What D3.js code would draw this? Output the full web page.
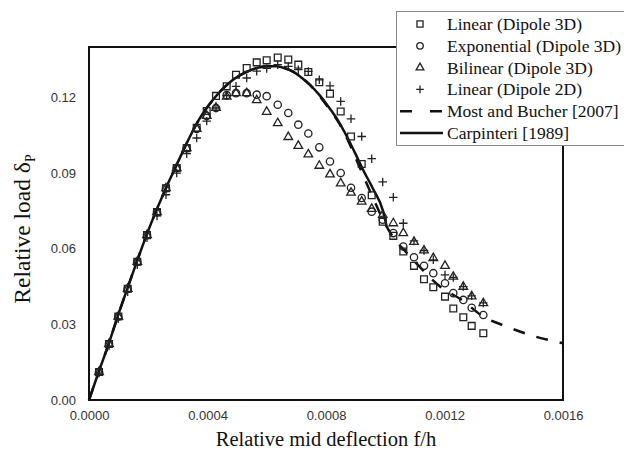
<!DOCTYPE html>
<html>
<head>
<meta charset="utf-8">
<script src="https://cdn.jsdelivr.net/npm/d3@7"></script>
<style>
body { margin: 0; background: #fff; }
</style>
</head>
<body>
<div id="chart"></div>
<script>
// relative mid deflection f/h of the load steps (same for every dipole model)
var deflection = [0.0000338, 0.0000675, 0.0000989, 0.0001306, 0.0001630, 0.0001958, 0.0002295, 0.0002599, 0.0002960, 0.0003298,
    0.0003635, 0.0003973, 0.0004287, 0.0004648, 0.0004962, 0.0005323, 0.0005661, 0.0005998, 0.0006370, 0.0006727,
    0.0007065, 0.0007403, 0.0007774, 0.0008135, 0.0008496, 0.0008844, 0.0009205, 0.0009543, 0.0009914, 0.0010272,
    0.0010609, 0.0010970, 0.0011308, 0.0011622, 0.0012017, 0.0012297, 0.0012635, 0.0012918, 0.0013310];

// relative load for each model
var linear3D = [0.0111, 0.0222, 0.0331, 0.0441, 0.0548, 0.0654, 0.0745, 0.0840, 0.0920, 0.0999,
    0.1080, 0.1146, 0.1206, 0.1244, 0.1290, 0.1317, 0.1339, 0.1347, 0.1358, 0.1350,
    0.1330, 0.1301, 0.1260, 0.1215, 0.1144, 0.1045, 0.0936, 0.0812, 0.0707, 0.0651,
    0.0589, 0.0532, 0.0479, 0.0447, 0.0410, 0.0363, 0.0328, 0.0294, 0.0265];
var exponential3D = [0.0111, 0.0222, 0.0331, 0.0441, 0.0548, 0.0654, 0.0745, 0.0840, 0.0920, 0.0999,
    0.1075, 0.1127, 0.1158, 0.1209, 0.1217, 0.1217, 0.1211, 0.1205, 0.1171, 0.1138,
    0.1092, 0.1057, 0.1002, 0.0946, 0.0900, 0.0842, 0.0801, 0.0747, 0.0715, 0.0662,
    0.0609, 0.0566, 0.0532, 0.0503, 0.0463, 0.0424, 0.0397, 0.0366, 0.0337];
var bilinear3D = [0.0111, 0.0222, 0.0331, 0.0441, 0.0548, 0.0654, 0.0745, 0.0840, 0.0920, 0.0999,
    0.1075, 0.1127, 0.1159, 0.1203, 0.1217, 0.1217, 0.1189, 0.1143, 0.1098, 0.1043,
    0.1008, 0.0974, 0.0929, 0.0895, 0.0859, 0.0822, 0.0787, 0.0758, 0.0734, 0.0701,
    0.0662, 0.0627, 0.0593, 0.0563, 0.0532, 0.0489, 0.0449, 0.0411, 0.0384];
var linear2D = [0.0107, 0.0214, 0.0322, 0.0429, 0.0536, 0.0643, 0.0730, 0.0814, 0.0900, 0.0977,
    0.1039, 0.1106, 0.1158, 0.1207, 0.1244, 0.1277, 0.1304, 0.1315, 0.1330, 0.1323,
    0.1310, 0.1303, 0.1270, 0.1246, 0.1184, 0.1115, 0.1045, 0.0957, 0.0865, 0.0804,
    0.0701, 0.0631, 0.0593, 0.0556, 0.0496, 0.0486, 0.0450, 0.0413, 0.0385];

// reference curves
var carpinteriX = [0, 0.0000338, 0.0000675, 0.0000979, 0.0001316, 0.0001637, 0.0001958, 0.0002295, 0.0002623, 0.0002960,
    0.0003409, 0.0003747, 0.0004186, 0.0004523, 0.0004861, 0.0005266, 0.0005661, 0.0006008, 0.0006336, 0.0006650,
    0.0006886, 0.0007122, 0.0007460, 0.0007797, 0.0008034, 0.0008371, 0.0008709, 0.0008979, 0.0009249, 0.0009586,
    0.0009924, 0.0010042];
var carpinteriY = [0, 0.0115, 0.0226, 0.0335, 0.0449, 0.0556, 0.0659, 0.0758, 0.0847, 0.0933,
    0.1045, 0.1119, 0.1191, 0.1235, 0.1270, 0.1298, 0.1317, 0.1324, 0.1324, 0.1314,
    0.1302, 0.1283, 0.1250, 0.1207, 0.1171, 0.1115, 0.1044, 0.0980, 0.0913, 0.0838,
    0.0750, 0.0691];
var mostBucherX = [0, 0.0000338, 0.0000675, 0.0000979, 0.0001316, 0.0001637, 0.0001958, 0.0002295, 0.0002623, 0.0002960,
    0.0003409, 0.0003747, 0.0004186, 0.0004523, 0.0004861, 0.0005266, 0.0005661, 0.0006008, 0.0006336, 0.0006650,
    0.0006886, 0.0007122, 0.0007460, 0.0007797, 0.0008135, 0.0008473, 0.0008810, 0.0009114, 0.0009350, 0.0009586,
    0.0009924, 0.0010329, 0.0010667, 0.0011004, 0.0011848, 0.0012580, 0.0013310, 0.0014042, 0.0014886, 0.0016000];
var mostBucherY = [0, 0.0115, 0.0226, 0.0335, 0.0449, 0.0556, 0.0659, 0.0758, 0.0847, 0.0933,
    0.1045, 0.1119, 0.1191, 0.1235, 0.1270, 0.1298, 0.1317, 0.1324, 0.1324, 0.1314,
    0.1302, 0.1283, 0.1250, 0.1203, 0.1151, 0.1092, 0.1012, 0.0929, 0.0865, 0.0802,
    0.0715, 0.0635, 0.0591, 0.0548, 0.0450, 0.0397, 0.0331, 0.0294, 0.0258, 0.0225];

var xTicks = [0, 0.0004, 0.0008, 0.0012, 0.0016];
var yTicks = [0, 0.03, 0.06, 0.09, 0.12];

var serif = "'Liberation Serif', 'Times New Roman', serif";
var sans = "'Liberation Sans', Arial, sans-serif";

// set the dimensions and margins of the graph
var margin = {top: 47, right: 61, bottom: 51, left: 89};
var width = 624 - margin.left - margin.right;
var height = 451 - margin.top - margin.bottom;

var svg = d3.select("#chart")
    .append("svg")
    .attr("width", 624)
    .attr("height", 451);

var inner = svg.append("g")
    .attr("transform", "translate(" + margin.left + "," + margin.top + ")");

var x = d3.scaleLinear().domain([0, 0.0016]).range([0, width]);
var y = d3.scaleLinear().domain([0, 0.14]).range([height, 0]);

// axes, labels only
var xAxis = inner.append("g")
    .attr("transform", "translate(0," + height + ")")
    .call(d3.axisBottom(x).tickValues(xTicks).tickFormat(d3.format(".4f")).tickSize(0).tickPadding(11));
var yAxis = inner.append("g")
    .call(d3.axisLeft(y).tickValues(yTicks).tickFormat(d3.format(".2f")).tickSize(0).tickPadding(13));
[xAxis, yAxis].forEach(function (a) {
    a.select(".domain").remove();
    a.selectAll("text").attr("font-family", sans).attr("font-size", 13).attr("fill", "#333");
});

// curves
var line = d3.line()
    .x(function (d) { return x(d[0]); })
    .y(function (d) { return y(d[1]); })
    .curve(d3.curveMonotoneX);

inner.append("path")
    .attr("d", line(mostBucherX.map(function (v, i) { return [v, mostBucherY[i]]; })))
    .attr("fill", "none")
    .attr("stroke", "#111")
    .attr("stroke-width", 2.5)
    .attr("stroke-dasharray", "12,12");

inner.append("path")
    .attr("d", line(carpinteriX.map(function (v, i) { return [v, carpinteriY[i]]; })))
    .attr("fill", "none")
    .attr("stroke", "#111")
    .attr("stroke-width", 2.5);

// plus symbol
var symbolPlus = {
    draw: function (context, size) {
        var r = Math.sqrt(size) / 2;
        context.moveTo(-r, 0); context.lineTo(r, 0);
        context.moveTo(0, -r); context.lineTo(0, r);
    }
};

var series = [
    {name: "Linear (Dipole 3D)", values: linear3D, symbol: d3.symbolSquare, size: 46},
    {name: "Exponential (Dipole 3D)", values: exponential3D, symbol: d3.symbolCircle, size: 42},
    {name: "Bilinear (Dipole 3D)", values: bilinear3D, symbol: d3.symbolTriangle, size: 32},
    {name: "Linear (Dipole 2D)", values: linear2D, symbol: symbolPlus, size: 72}
];

series.forEach(function (s) {
    inner.append("g").selectAll("path")
        .data(s.values)
        .enter()
        .append("path")
        .attr("transform", function (d, i) { return "translate(" + x(deflection[i]) + "," + y(d) + ")"; })
        .attr("d", d3.symbol().type(s.symbol).size(s.size))
        .attr("fill", "none")
        .attr("stroke", "#222")
        .attr("stroke-width", 1.3);
});

// plot frame
inner.append("rect")
    .attr("width", width)
    .attr("height", height)
    .attr("fill", "none")
    .attr("stroke", "#111")
    .attr("stroke-width", 2);

// axis titles
svg.append("text")
    .attr("x", margin.left + width / 2)
    .attr("y", 446)
    .attr("text-anchor", "middle")
    .attr("font-family", serif)
    .attr("font-size", 20.5)
    .attr("fill", "#111")
    .text("Relative mid deflection f/h");

var yTitle = svg.append("text")
    .attr("transform", "translate(30,229) rotate(-90)")
    .attr("text-anchor", "middle")
    .attr("font-family", serif)
    .attr("font-size", 23.5)
    .attr("fill", "#111");
yTitle.append("tspan").text("Relative load δ");
yTitle.append("tspan").attr("font-size", 14).attr("dy", 5).text("P");

// legend
var legend = svg.append("g");
legend.append("rect")
    .attr("x", 396.5).attr("y", 11.5)
    .attr("width", 240).attr("height", 134)
    .attr("fill", "#fff")
    .attr("stroke", "#8a8a8a")
    .attr("stroke-width", 1);

var legendRows = series.map(function (s) { return {name: s.name, symbol: s.symbol, size: s.size * 0.8}; })
    .concat([{name: "Most and Bucher [2007]", dash: "12,18"}, {name: "Carpinteri [1989]", dash: null}]);

legendRows.forEach(function (r, i) {
    var cy = 24 + i * 21.8;
    if (r.symbol) {
        legend.append("path")
            .attr("transform", "translate(420," + cy + ")")
            .attr("d", d3.symbol().type(r.symbol).size(r.size))
            .attr("fill", "none")
            .attr("stroke", "#222")
            .attr("stroke-width", 1.3);
    } else {
        legend.append("line")
            .attr("x1", 400).attr("x2", 443)
            .attr("y1", cy).attr("y2", cy)
            .attr("stroke", "#111")
            .attr("stroke-width", 2.5)
            .attr("stroke-dasharray", r.dash);
    }
    legend.append("text")
        .attr("x", 447)
        .attr("y", cy + 6)
        .attr("font-family", serif)
        .attr("font-size", 17.5)
        .attr("fill", "#111")
        .text(r.name);
});
</script>
</body>
</html>
